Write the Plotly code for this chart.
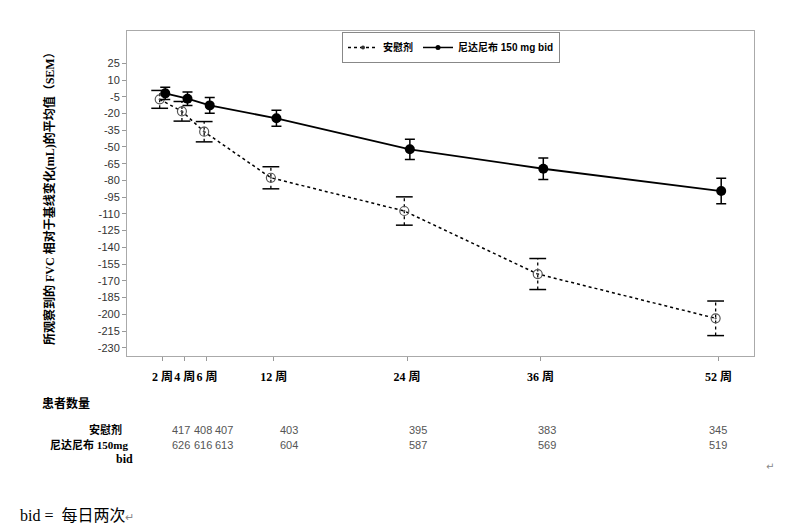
import plotly.graph_objects as go

# ---------------- data ----------------
weeks = [2, 4, 6, 12, 24, 36, 52]
week_labels = ["2 周", "4 周", "6 周", "12 周", "24 周", "36 周", "52 周"]
y_ticks = [25, 10, -5, -20, -35, -50, -65, -80, -95, -110, -125, -140,
           -155, -170, -185, -200, -215, -230]
placebo_mean = [-7.3, -18.0, -36.3, -77.6, -107.4, -163.9, -203.6]
placebo_sem = [8.0, 8.8, 9.1, 9.9, 12.7, 13.9, 15.5]
nint_mean = [-1.9, -6.7, -12.7, -24.3, -52.1, -69.5, -89.5]
nint_sem = [5.5, 6.0, 7.0, 7.2, 9.1, 9.6, 11.5]
placebo_n = [417, 408, 407, 403, 395, 383, 345]
nint_n = [626, 616, 613, 604, 587, 569, 519]
series_names = ["安慰剂", "尼达尼布 150 mg bid"]
y_title = "所观察到的 FVC 相对于基线变化(mL)的平均值（SEM）"

# ---------------- layout constants ----------------
W, H = 793, 527
L, R, T, B = 127, 39, 31, 171
PW, PH = W - L - R, H - T - B
dodge = 0.25
table_cols_px = [181, 203, 224, 289, 418, 547, 718]


def px(x):
    return (x - L) / PW


def py(y):
    return (H - B - y) / PH


xp = [w - dodge for w in weeks]
xn = [w + dodge for w in weeks]

fig = go.Figure()

# placebo error bars (dotted verticals + caps)
seg_x, seg_y = [], []
for x, m, s in zip(xp, placebo_mean, placebo_sem):
    seg_x += [x, x, None]
    seg_y += [m - s, m + s, None]
fig.add_trace(go.Scatter(x=seg_x, y=seg_y, mode="lines",
                         line=dict(color="black", width=1.3, dash="dot"),
                         showlegend=False, hoverinfo="skip"))
fig.add_trace(go.Scatter(
    x=xp + xp,
    y=[m + s for m, s in zip(placebo_mean, placebo_sem)] + [m - s for m, s in zip(placebo_mean, placebo_sem)],
    mode="markers",
    marker=dict(symbol="line-ew-open", size=12, color="black", line=dict(color="black", width=1.5)),
    showlegend=False, hoverinfo="skip"))

# placebo line
fig.add_trace(go.Scatter(
    x=xp, y=placebo_mean, mode="lines+markers", showlegend=False,
    line=dict(color="black", width=1.5, dash="dot"),
    marker=dict(symbol="circle-open-dot", size=9, color="#555",
                line=dict(color="#555", width=1.2)),
))

# nintedanib line
fig.add_trace(go.Scatter(
    x=xn, y=nint_mean, mode="lines+markers", showlegend=False,
    line=dict(color="black", width=1.8),
    marker=dict(symbol="circle", size=10, color="black"),
    error_y=dict(type="data", array=nint_sem, visible=True, color="black",
                 thickness=1.5, width=5),
))

# legend-only entries with small symbols
fig.add_trace(go.Scatter(
    x=[None], y=[None], mode="lines+markers", name="<b>" + series_names[0] + "</b>",
    line=dict(color="black", width=1.3, dash="dot"),
    marker=dict(symbol="circle", size=4, color="#333")))
fig.add_trace(go.Scatter(
    x=[None], y=[None], mode="lines+markers", name="<b>" + series_names[1] + "</b>",
    line=dict(color="black", width=1.5),
    marker=dict(symbol="circle", size=5, color="black")))

annotations = []
annotations.append(dict(
    text="<b>" + y_title + "</b>", textangle=-90, xref="paper", yref="paper",
    x=px(49), y=py(196), showarrow=False, xanchor="center", yanchor="middle",
    font=dict(family="Liberation Serif, Noto Sans CJK SC", size=12, color="black")))

# patient numbers table
annotations.append(dict(text="<b>患者数量</b>", xref="paper", yref="paper",
                        x=px(40), y=py(402), xanchor="left", yanchor="middle", showarrow=False,
                        font=dict(family="Noto Sans CJK SC", size=12, color="black")))
annotations.append(dict(text="<b>" + series_names[0] + "</b>", xref="paper", yref="paper",
                        x=px(124), y=py(429), xanchor="right", yanchor="middle", showarrow=False,
                        font=dict(family="Noto Sans CJK SC", size=11, color="black")))
annotations.append(dict(text="<b>尼达尼布 150mg</b>", xref="paper", yref="paper",
                        x=px(130), y=py(444), xanchor="right", yanchor="middle", showarrow=False,
                        font=dict(family="Liberation Serif, Noto Sans CJK SC", size=11, color="black")))
annotations.append(dict(text="<b>bid</b>", xref="paper", yref="paper",
                        x=px(135), y=py(459), xanchor="right", yanchor="middle", showarrow=False,
                        font=dict(family="Liberation Serif", size=12, color="black")))
for cx, a, b in zip(table_cols_px, placebo_n, nint_n):
    annotations.append(dict(text=str(a), xref="paper", yref="paper", x=px(cx), y=py(430.5),
                            xanchor="center", yanchor="middle", showarrow=False,
                            font=dict(family="Arial, Liberation Sans", size=11, color="#555")))
    annotations.append(dict(text=str(b), xref="paper", yref="paper", x=px(cx), y=py(445),
                            xanchor="center", yanchor="middle", showarrow=False,
                            font=dict(family="Arial, Liberation Sans", size=11, color="#555")))
annotations.append(dict(text="↵", xref="paper", yref="paper", x=px(770), y=py(466),
                        xanchor="center", yanchor="middle", showarrow=False,
                        font=dict(family="DejaVu Sans", size=10, color="#888")))
annotations.append(dict(text="bid =  每日两次<span style='color:#888;font-size:11px'>↵</span>",
                        xref="paper", yref="paper", x=px(18), y=py(515),
                        xanchor="left", yanchor="middle", showarrow=False,
                        font=dict(family="Liberation Serif, Noto Sans CJK SC", size=16, color="black")))

fig.update_layout(
    width=W, height=H,
    margin=dict(l=L, r=R, t=T, b=B),
    paper_bgcolor="white", plot_bgcolor="white",
    showlegend=True,
    legend=dict(orientation="h", x=px(451), xanchor="center", y=0.997, yanchor="top",
                bgcolor="white", bordercolor="#888", borderwidth=1,
                font=dict(family="Arial, Noto Sans CJK SC", size=10, color="black"),
                itemwidth=30, tracegroupgap=0),
    annotations=annotations,
)
fig.update_xaxes(
    range=[-1.19, 55.2], tickmode="array", tickvals=weeks,
    ticktext=["<b>" + t + "</b>" for t in week_labels], tickangle=0,
    ticks="outside", ticklen=4, tickcolor="#999",
    tickfont=dict(family="Liberation Serif, Noto Sans CJK SC", size=12, color="black"),
    showline=True, mirror=True, linecolor="#aaa", linewidth=1,
    showgrid=False, zeroline=False, ticklabelstandoff=6,
)
fig.update_yaxes(
    range=[-237.4, 54.0], tickmode="array", tickvals=y_ticks,
    ticktext=[str(v) for v in y_ticks],
    ticks="outside", ticklen=4, tickcolor="#999",
    tickfont=dict(family="Arial, Liberation Sans", size=11, color="#333"),
    showline=True, mirror=True, linecolor="#aaa", linewidth=1,
    showgrid=False, zeroline=False,
)

fig.write_html("out.html")
